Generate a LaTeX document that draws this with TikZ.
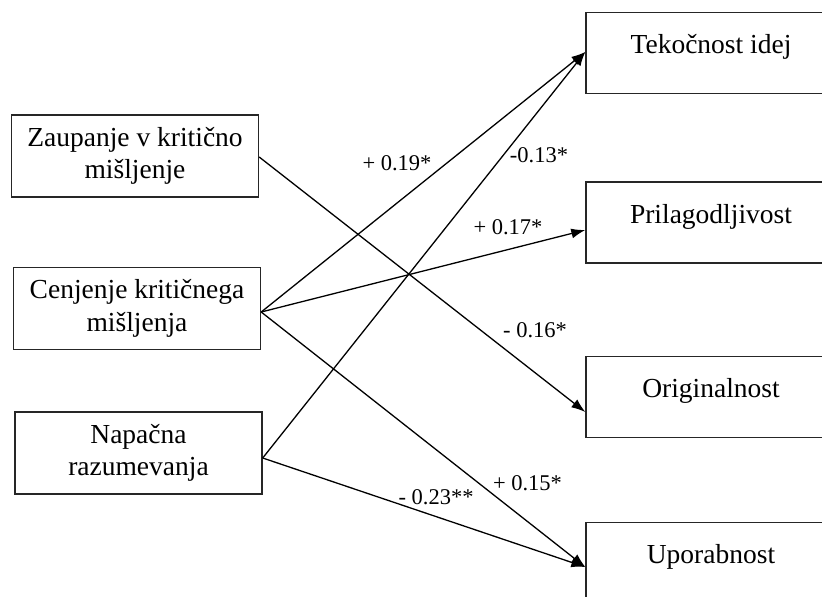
\documentclass[tikz,border=0pt]{standalone}
\usepackage{fontspec}
\setmainfont{Liberation Serif}
\usetikzlibrary{arrows.meta,calc}
\begin{document}
\begin{tikzpicture}[x=1pt,y=-1pt,
  box/.style={draw=black!85, line width=1.4pt, minimum width=247pt, minimum height=82pt,
    inner sep=0pt, align=center, font=\fontsize{27.5}{32.4}\selectfont},
  rbox/.style={box, minimum width=250pt, minimum height=81pt, text height=10pt, text depth=9pt},
  conn/.style={line width=1.3pt, -{Latex[length=14pt,width=10pt]}},
  coef/.style={font=\fontsize{22.5}{26}\selectfont, inner sep=0pt}]
\useasboundingbox (0,0) rectangle (822,597);
\clip (0,0) rectangle (822,597);
\fill[white] (0,0) rectangle (822,597);
% left boxes
\node[box] (z) at (135,156) {Zaupanje v kritično\\mišljenje};
\node[box] (c) at (137,308.5) {Cenjenje kritičnega\\mišljenja};
\node[box] (n) at (138.5,453) {Napačna\\razumevanja};
% right boxes
\node[rbox] (t) at (711,53) {Tekočnost idej};
\node[rbox] (p) at (711,222.5) {Prilagodljivost};
\node[rbox] (o) at (711,397) {Originalnost};
\node[rbox] (u) at (711,563) {Uporabnost};
% anchor points
\coordinate (zs) at ($(z.east)+(0,1)$);
\coordinate (cs) at ($(c.east)+(0,3.5)$);
\coordinate (ns) at ($(n.east)+(0,5)$);
\coordinate (te) at ($(t.west)+(0,-1)$);
\coordinate (pe) at ($(p.west)+(0,7.5)$);
\coordinate (oe) at ($(o.west)+(0,15)$);
\coordinate (ue) at ($(u.west)+(0,4)$);
% connectors
\draw[conn] (zs) -- (oe);
\draw[conn] (cs) -- (te);
\draw[conn] (cs) -- (pe);
\draw[conn] (cs) -- (ue);
\draw[conn] (ns) -- (te);
\draw[conn] (ns) -- (ue);
% coefficients
\node[coef] (l1) at (397,163) {+ 0.19*};
\node[coef] (l2) at (539,155) {-0.13*};
\node[coef] (l3) at (508,227.5) {+ 0.17*};
\node[coef] (l4) at (535,330) {- 0.16*};
\node[coef] (l5) at (527.5,483) {+ 0.15*};
\node[coef] (l6) at (436,497) {- 0.23**};
\end{tikzpicture}
\end{document}
